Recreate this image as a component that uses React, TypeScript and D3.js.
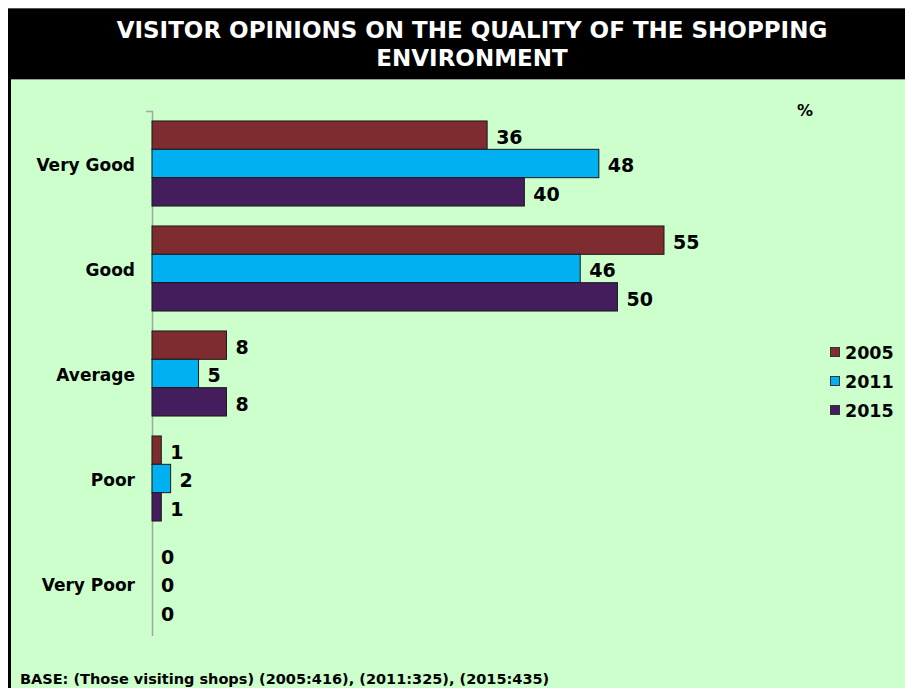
import React from "react";
import * as d3 from "d3";

const categories = ["Very Good", "Good", "Average", "Poor", "Very Poor"];
const years = ["2005", "2011", "2015"];
const values2005 = [36, 55, 8, 1, 0];
const values2011 = [48, 46, 5, 2, 0];
const values2015 = [40, 50, 8, 1, 0];
const seriesValues = [values2005, values2011, values2015];
const colors = ["#7F2C30", "#00B0F0", "#431D5C"];
const titleLines = ["VISITOR OPINIONS ON THE QUALITY OF THE SHOPPING", "ENVIRONMENT"];
const baseNote = "BASE: (Those visiting shops) (2005:416), (2011:325), (2015:435)";

export default function App() {
  const W = 905, H = 688;
  const font = "Verdana, 'DejaVu Sans', sans-serif";
  const x = d3.scaleLinear().domain([0, 55]).range([152, 664]);
  const y = d3.scaleBand().domain(categories).range([111, 636]).paddingInner(0.19).paddingOuter(0.095);
  const inner = d3.scaleBand().domain(years).range([0, y.bandwidth()]);
  return (
    <div style={{ position: "absolute", left: 0, top: 0 }}>
      <svg width={W} height={H} style={{ display: "block" }}>
        <rect x={0} y={0} width={W} height={H} fill="#ffffff" />
        <rect x={8} y={79} width={W - 8} height={H - 79} fill="#CCFFCC" />
        <rect x={8} y={8} width={W - 8} height={71} fill="#000000" />
        <line x1={8} x2={W} y1={79.5} y2={79.5} stroke="#9a9a9a" strokeWidth={1} />
        <line x1={9.5} x2={9.5} y1={8} y2={H} stroke="#000" strokeWidth={3} />
        <line x1={8} x2={W} y1={8.5} y2={8.5} stroke="#555" strokeWidth={1} />
        {titleLines.map((t, i) => (
          <text key={i} x={472} y={38 + i * 28} textAnchor="middle" fill="#fff"
            fontFamily={font} fontWeight="bold" fontSize={23}>{t}</text>
        ))}
        <text x={805} y={116} textAnchor="middle" fontFamily={font} fontWeight="bold" fontSize={16}>%</text>
        <path d={`M146,111.5H152.5V636`} fill="none" stroke="#a0a8a0" strokeWidth={1.5} />
        {categories.map((c, ci) => (
          <g key={c}>
            <text x={135} y={(y(c) as number) + y.bandwidth() / 2 + 2} dy="0.35em" textAnchor="end"
              fontFamily={font} fontWeight="bold" fontSize={17}>{c}</text>
            {years.map((yr, si) => {
              const v = seriesValues[si][ci];
              const by = (y(c) as number) + (inner(yr) as number);
              const bw = x(v) - x(0);
              return (
                <g key={yr}>
                  {v > 0 && (
                    <rect x={x(0)} y={by} width={bw} height={inner.bandwidth()}
                      fill={colors[si]} stroke="#1a1a1a" strokeWidth={1} />
                  )}
                  <text x={x(v) + 9} y={by + inner.bandwidth() / 2 + 2} dy="0.35em"
                    fontFamily={font} fontWeight="bold" fontSize={19}>{v}</text>
                </g>
              );
            })}
          </g>
        ))}
        {years.map((yr, i) => (
          <g key={yr}>
            <rect x={830.5} y={347.5 + i * 29} width={9} height={9} fill={colors[i]} stroke="#333" strokeWidth={1} />
            <text x={845} y={353 + i * 29} dy="0.35em" fontFamily={font} fontWeight="bold" fontSize={17.5}>{yr}</text>
          </g>
        ))}
        <text x={20} y={684} fontFamily={font} fontWeight="bold" fontSize={14.5}>{baseNote}</text>
      </svg>
    </div>
  );
}
